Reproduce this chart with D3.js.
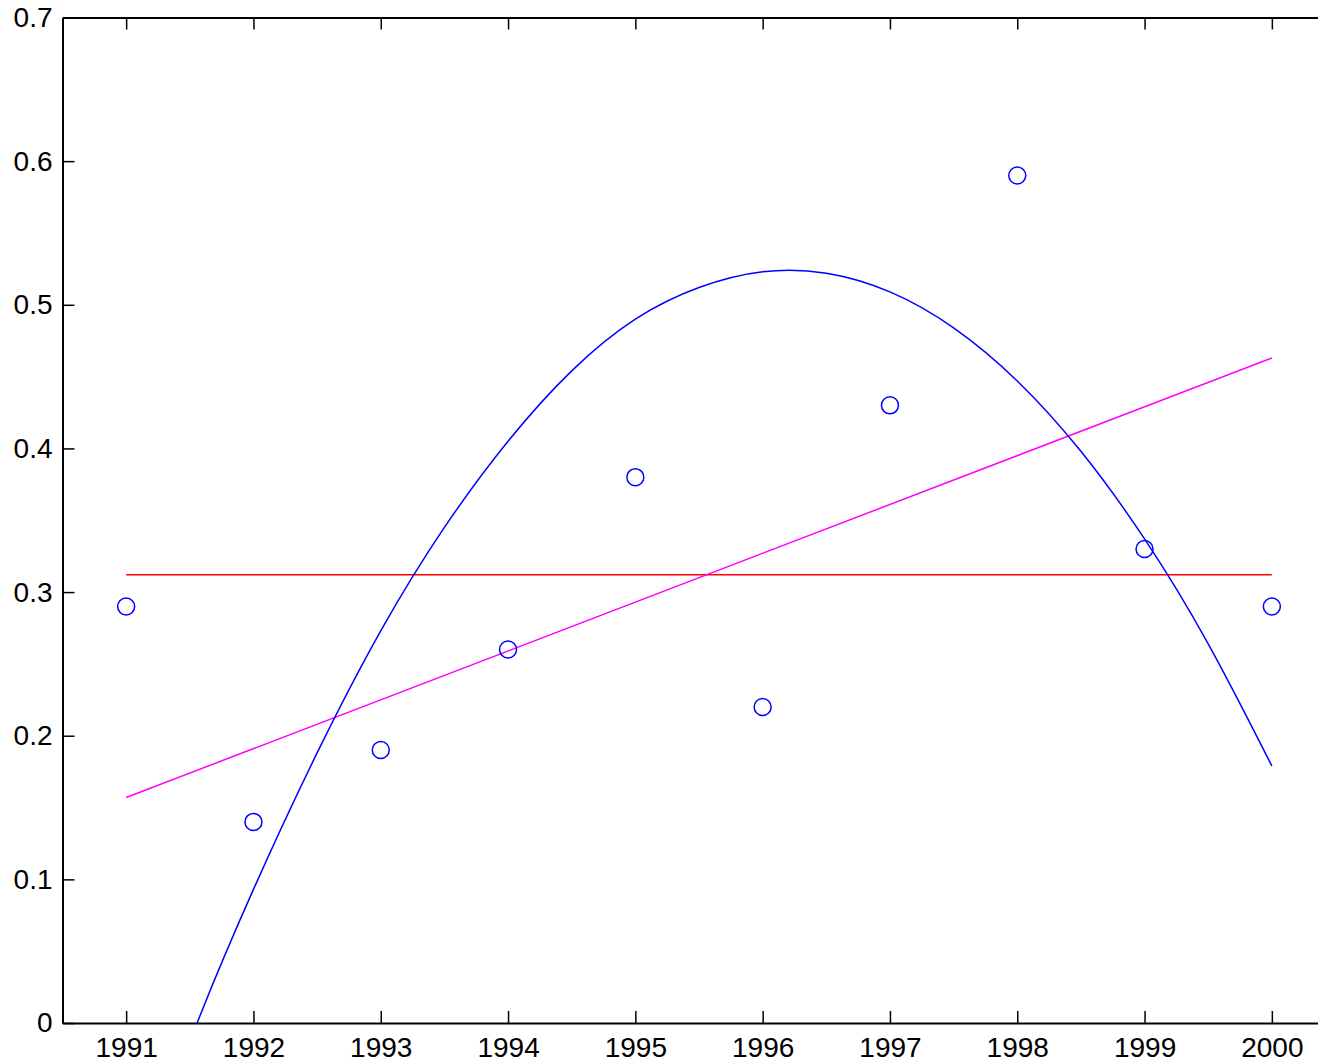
<!DOCTYPE html>
<html>
<head>
<meta charset="utf-8">
<script src="https://cdn.jsdelivr.net/npm/d3@7"></script>
<style>
  html, body { margin: 0; padding: 0; background: #fff; }
  svg { display: block; }
  text { font-family: "Liberation Sans", Arial, sans-serif; font-size: 28px; fill: #000; }
</style>
</head>
<body>
<svg id="chart" width="1318" height="1063"></svg>
<script>
// Observed yearly values
const years = [1991, 1992, 1993, 1994, 1995, 1996, 1997, 1998, 1999, 2000];
const values = [0.29, 0.14, 0.19, 0.26, 0.38, 0.22, 0.43, 0.59, 0.33, 0.29];

// Mean level (red) and trend line (magenta) end points
const meanYears = [1991, 2000];
const meanValues = [0.312, 0.312];
const trendYears = [1991, 2000];
const trendValues = [0.157, 0.463];

// Curved fit (blue), sampled every half year
const curveYears = [1991, 1991.5, 1992, 1992.5, 1993, 1993.5, 1994, 1994.5, 1995, 1995.5,
                    1996, 1996.5, 1997, 1997.5, 1998, 1998.5, 1999, 1999.5, 2000];
const curveValues = [-0.135, -0.013, 0.093, 0.188, 0.273, 0.345, 0.405, 0.454, 0.490, 0.512,
                     0.523, 0.522, 0.509, 0.484, 0.447, 0.398, 0.337, 0.264, 0.179];

// Axis ticks
const xTicks = years;
const yTicks = [0, 0.1, 0.2, 0.3, 0.4, 0.5, 0.6, 0.7];
const yTickLabels = ["0", "0.1", "0.2", "0.3", "0.4", "0.5", "0.6", "0.7"];

const svg = d3.select("#chart");
const plotLeft = 62.5, plotTop = 17.5, plotBottom = 1023, plotWidth = 1273;
const x = d3.scaleLinear().domain([1990.5, 2000.5]).range([plotLeft, plotLeft + plotWidth]);
const y = d3.scaleLinear().domain([0, 0.7]).range([plotBottom, plotTop]);

svg.append("defs").append("clipPath").attr("id", "plotArea")
  .append("rect").attr("x", plotLeft).attr("y", plotTop)
  .attr("width", plotWidth).attr("height", plotBottom - plotTop);

const plot = svg.append("g").attr("clip-path", "url(#plotArea)");

const line = d3.line().x(d => x(d[0])).y(d => y(d[1]));

// Mean line
plot.append("path")
  .datum(d3.zip(meanYears, meanValues))
  .attr("d", line)
  .attr("fill", "none").attr("stroke", "#ff0000").attr("stroke-width", 1.5);

// Trend line
plot.append("path")
  .datum(d3.zip(trendYears, trendValues))
  .attr("d", line)
  .attr("fill", "none").attr("stroke", "#ff00ff").attr("stroke-width", 1.5);

// Curved fit
plot.append("path")
  .datum(d3.zip(curveYears, curveValues))
  .attr("d", d3.line().x(d => x(d[0])).y(d => y(d[1])).curve(d3.curveNatural))
  .attr("fill", "none").attr("stroke", "#0000ff").attr("stroke-width", 1.5);

// Data markers
plot.selectAll("circle.pt")
  .data(d3.zip(years, values))
  .join("circle")
  .attr("class", "pt")
  .attr("cx", d => x(d[0]))
  .attr("cy", d => y(d[1]))
  .attr("r", 8.5)
  .attr("fill", "none").attr("stroke", "#0000ff").attr("stroke-width", 1.5);

// Axes box
const axisG = svg.append("g");
const tickLen = 12;
const labelFont = "Liberation Sans, Arial, sans-serif";

// bottom axis
axisG.append("g")
  .attr("transform", `translate(0,${plotBottom})`)
  .call(d3.axisBottom(x).tickValues(xTicks).tickFormat(d3.format("d"))
        .tickSizeInner(-tickLen).tickSizeOuter(0).tickPadding(14))
  .call(g => g.select(".domain").attr("stroke-width", 2))
  .call(g => g.selectAll(".tick line").attr("stroke-width", 1.5))
  .call(g => g.selectAll("text").attr("font-size", 28).attr("font-family", labelFont));

// top axis (ticks only)
axisG.append("g")
  .attr("transform", `translate(0,${plotTop})`)
  .call(d3.axisTop(x).tickValues(xTicks).tickFormat("")
        .tickSizeInner(-tickLen).tickSizeOuter(0))
  .call(g => g.select(".domain").attr("stroke-width", 2))
  .call(g => g.selectAll(".tick line").attr("stroke-width", 1.5));

// left axis
axisG.append("g")
  .attr("transform", `translate(${plotLeft},0)`)
  .call(d3.axisLeft(y).tickValues(yTicks).tickFormat((d, i) => yTickLabels[i])
        .tickSizeInner(-tickLen).tickSizeOuter(0).tickPadding(10))
  .call(g => g.select(".domain").attr("stroke-width", 2))
  .call(g => g.selectAll(".tick line").attr("stroke-width", 1.5))
  .call(g => g.selectAll("text").attr("font-size", 28).attr("font-family", labelFont));
</script>
</body>
</html>
